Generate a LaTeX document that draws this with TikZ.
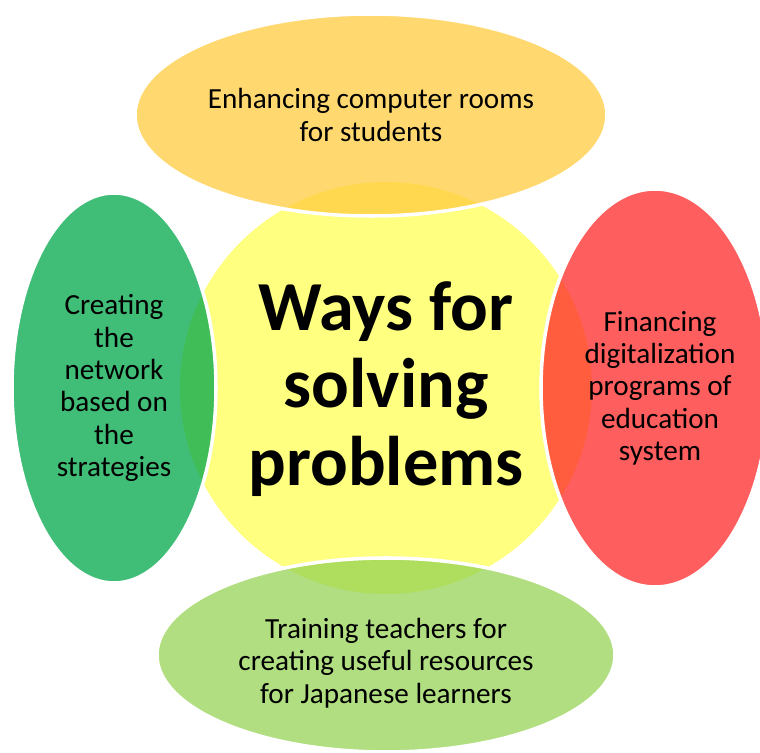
\documentclass[tikz,border=0pt]{standalone}
\usepackage{fontspec}
\setmainfont{Carlito}
\usepackage{xcolor}
\usepackage{tikz}
\tikzset{>=latex}
\usetikzlibrary{calc}
\definecolor{myyellow}{HTML}{FFFF80}
\definecolor{mygold}{HTML}{FFCC3F}
\definecolor{mygreen}{HTML}{00A849}
\definecolor{myred}{HTML}{FF2828}
\definecolor{mylime}{HTML}{95D355}
\tikzset{
	petal/.style={draw=white,line width=2pt,fill opacity=.75},
	petaltext/.style={align=center,font=\fontsize{16.6}{18.4}\selectfont,text=black},
}

\begin{document}
\begin{tikzpicture}
		\useasboundingbox (0,0) rectangle (15.2,15.06);
		\clip (0,0) rectangle (15.2,15.06);
		\coordinate (C) at (7.72,7.30);
		\coordinate (T) at (7.42,12.76);
		\coordinate (L) at (2.28,7.30);
		\coordinate (R) at (13.10,7.30);
		\coordinate (B) at (7.72,1.96);

		\fill[myyellow] (C) circle (4.12);
		\draw[petal,fill=mygold] (T) ellipse (4.72 and 2.02);
		\draw[petal,fill=mygreen] (L) ellipse (2.04 and 3.90);
		\draw[petal,fill=myred] (R) ellipse (2.28 and 3.98);
		\draw[petal,fill=mylime] (B) ellipse (4.58 and 1.94);

		\node[petaltext] (enhancing) at (T) {Enhancing computer rooms\\for students};
		\node[petaltext] (creating) at (L) {Creating\\the\\network\\based on\\the\\strategies};
		\node[petaltext] (financing) at ($(R)+(0.1,0)$) {Financing\\digitalization\\programs of\\education\\system};
		\node[petaltext] (training) at ($(B)+(0,-0.16)$) {Training teachers for\\creating useful resources\\for Japanese learners};
		\node[align=center,font=\fontsize{40}{44}\selectfont\bfseries] (ways) at ($(C)+(0,-0.02)$) {Ways for\\solving\\problems};
	\end{tikzpicture}
\end{document}
